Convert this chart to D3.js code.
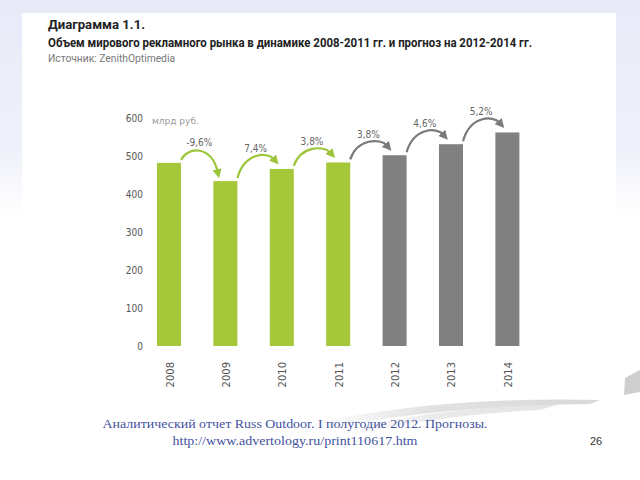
<!DOCTYPE html>
<html>
<head>
<meta charset="utf-8">
<script src="https://cdn.jsdelivr.net/npm/d3@7"></script>
<style>
  html, body { margin: 0; padding: 0; background: #fff; }
  svg { display: block; }
</style>
</head>
<body>
<svg id="chart" width="640" height="480"></svg>
<script>
const years = ["2008", "2009", "2010", "2011", "2012", "2013", "2014"];
const values = [482, 434, 466, 483, 502, 531, 562];
const forecast = [false, false, false, false, true, true, true];
const growthLabels = ["-9,6%", "7,4%", "3,8%", "3,8%", "4,6%", "5,2%"];
const yTicks = [0, 100, 200, 300, 400, 500, 600];
const titleLines = ["Диаграмма 1.1.", "Объем мирового рекламного рынка в динамике 2008-2011 гг. и прогноз на 2012-2014 гг."];
const sourceText = "Источник: ZenithOptimedia";
const unitText = "млрд руб.";
const footerLines = ["Аналитический отчет Russ Outdoor. I полугодие 2012. Прогнозы.", "http://www.advertology.ru/print110617.htm"];
const pageNumber = "26";

const GREEN = "#a5c83b", GREY = "#808080";
const svg = d3.select("#chart");
const defs = svg.append("defs");

// slide background
const bg = defs.append("linearGradient").attr("id", "bg").attr("x1", 0).attr("y1", 0).attr("x2", 0).attr("y2", 1);
bg.append("stop").attr("offset", "0%").attr("stop-color", "#e8eaf8");
bg.append("stop").attr("offset", "30%").attr("stop-color", "#eef0fa");
bg.append("stop").attr("offset", "45%").attr("stop-color", "#ffffff");
svg.append("rect").attr("width", 640).attr("height", 480).attr("fill", "url(#bg)");

// swooshes
const sw = defs.append("linearGradient").attr("id", "sw").attr("x1", 0).attr("y1", 0).attr("x2", 1).attr("y2", 0);
sw.append("stop").attr("offset", "0%").attr("stop-color", "#ffffff").attr("stop-opacity", 0);
sw.append("stop").attr("offset", "50%").attr("stop-color", "#e2e2e2");
sw.append("stop").attr("offset", "100%").attr("stop-color", "#d8d8d8");
// white image box
svg.append("rect").attr("x", 22).attr("y", 13).attr("width", 594).attr("height", 385).attr("fill", "#ffffff");
svg.append("path").attr("d", "M250,440 Q400,395 600,400 L590,404 Q420,405 270,440 Z").attr("fill", "url(#sw)");
svg.append("path").attr("d", "M300,440 Q440,405 560,404 L540,410 Q430,415 320,442 Z").attr("fill", "url(#sw)").attr("opacity", 0.7);
svg.append("path").attr("d", "M625,378 L640,370 L640,392 L624,395 Z").attr("fill", "#cfcfcf");

// titles
const tfont = "Roboto, 'DejaVu Sans', sans-serif";
const font = "'DejaVu Sans', sans-serif";
svg.append("text").attr("x", 48).attr("y", 29).text(titleLines[0])
  .attr("font-family", tfont).attr("font-weight", "bold").attr("font-size", 12).attr("fill", "#222")
  .attr("textLength", 97).attr("lengthAdjust", "spacingAndGlyphs");
svg.append("text").attr("x", 48).attr("y", 47).text(titleLines[1])
  .attr("font-family", tfont).attr("font-weight", "bold").attr("font-size", 12).attr("fill", "#222")
  .attr("textLength", 484).attr("lengthAdjust", "spacingAndGlyphs");
svg.append("text").attr("x", 48).attr("y", 62).text(sourceText)
  .attr("font-family", tfont).attr("font-size", 10).attr("fill", "#777")
  .attr("textLength", 127).attr("lengthAdjust", "spacingAndGlyphs");

// scales
const x = d3.scaleBand().domain(years).range([128.8, 547.6]).paddingInner(0.574).paddingOuter(0.5);
const y = d3.scaleLinear().domain([0, 600]).range([346, 118]);
const bw = x.bandwidth();

// y axis
const yAxis = svg.append("g").attr("transform", "translate(147,0)")
  .call(d3.axisLeft(y).tickValues(yTicks).tickSize(0).tickPadding(4));
yAxis.select(".domain").remove();
yAxis.selectAll("text").attr("font-family", font).attr("font-size", 10).attr("fill", "#555")
  .style("font-stretch", "condensed");

svg.append("text").attr("x", 152).attr("y", 124).text(unitText)
  .attr("font-family", font).attr("font-size", 9).attr("fill", "#9a9a9a");

// x axis
const xAxis = svg.append("g").attr("transform", "translate(0,346)")
  .call(d3.axisBottom(x).tickSize(0));
xAxis.select(".domain").remove();
xAxis.selectAll("text")
  .attr("transform", "rotate(-90)").attr("x", -16).attr("y", 0).attr("dy", "0.45em")
  .style("text-anchor", "end")
  .attr("font-family", font).attr("font-size", 10).attr("fill", "#555");

// bars
svg.append("g").selectAll("rect").data(years).join("rect")
  .attr("x", d => x(d)).attr("width", bw)
  .attr("y", (d, i) => y(values[i])).attr("height", (d, i) => y(0) - y(values[i]))
  .attr("fill", (d, i) => forecast[i] ? GREY : GREEN);

// arrow markers
[["mg", "#9cc63a"], ["mr", "#7a7a7a"]].forEach(([id, c]) => {
  defs.append("marker").attr("id", id).attr("viewBox", "0 0 10 10").attr("refX", 2).attr("refY", 5)
    .attr("markerWidth", 4.2).attr("markerHeight", 4.2).attr("orient", "auto")
    .attr("markerUnits", "strokeWidth")
    .append("path").attr("d", "M0,0 L10,5 L0,10 Z").attr("fill", c);
});

const arrows = svg.append("g");
growthLabels.forEach((lab, i) => {
  const t0 = y(values[i]), t1 = y(values[i + 1]);
  const sx = x(years[i]) + bw, sy = t0 - 3;
  const ex = x(years[i + 1]) + 4, ey = t1 - 10;
  const apex = Math.min(t0, t1) - 13;
  const cy = apex - 4;
  const green = !forecast[i + 1];
  arrows.append("path")
    .attr("d", `M${sx},${sy} C${sx + 7},${cy} ${ex - 6},${cy} ${ex},${ey}`)
    .attr("fill", "none").attr("stroke", green ? "#9cc63a" : "#7a7a7a")
    .attr("stroke-width", 2.2).attr("marker-end", `url(#${green ? "mg" : "mr"})`);
  arrows.append("text").attr("x", (sx + ex) / 2).attr("y", apex - 4)
    .attr("text-anchor", "middle").text(lab)
    .attr("font-family", font).attr("font-size", 10).attr("fill", "#666")
    .style("font-stretch", "condensed");
});

// footer
const serif = "'Liberation Serif', serif";
svg.append("text").attr("x", 295).attr("y", 428).attr("text-anchor", "middle").text(footerLines[0])
  .attr("font-family", serif).attr("font-size", 13).attr("fill", "#43529f")
  .attr("textLength", 385).attr("lengthAdjust", "spacingAndGlyphs");
svg.append("text").attr("x", 295).attr("y", 445).attr("text-anchor", "middle").text(footerLines[1])
  .attr("font-family", serif).attr("font-size", 13).attr("fill", "#43529f")
  .attr("textLength", 245).attr("lengthAdjust", "spacingAndGlyphs");
svg.append("text").attr("x", 596).attr("y", 445).attr("text-anchor", "middle").text(pageNumber)
  .attr("font-family", "'Liberation Sans', Arial, sans-serif").attr("font-size", 11).attr("fill", "#333");
</script>
</body>
</html>
